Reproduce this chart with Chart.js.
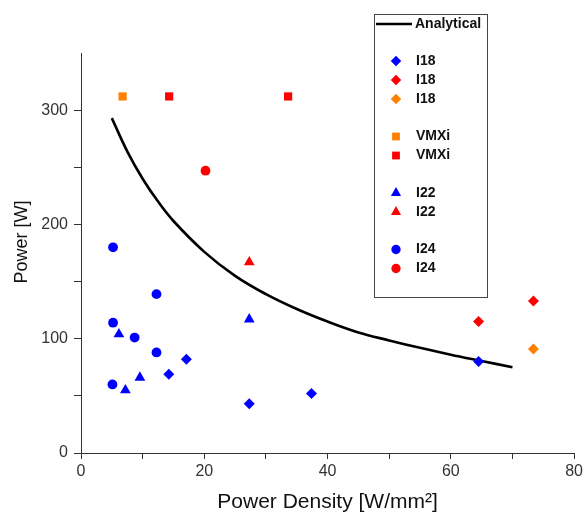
<!DOCTYPE html>
<html>
<head>
<meta charset="utf-8">
<title>Power vs Power Density</title>
<script src="https://cdn.jsdelivr.net/npm/chart.js"></script>
<style>
  html, body { margin: 0; padding: 0; background: #fff; }
  #wrap { position: relative; width: 586px; height: 515px; }
</style>
</head>
<body>
<div id="wrap"><canvas id="powerChart" width="586" height="515"></canvas></div>
<script>
// values
const analyticalX = [5, 7.5, 10, 12.5, 15, 20, 25, 30, 35, 40, 45, 50, 55, 60, 65, 70];
const analyticalY = [293, 264, 240, 220, 203, 176, 155, 139, 126, 115, 105.5, 98.5, 92, 86, 80.5, 75];

const i18BlueX = [14.25, 17.1, 27.3, 37.4, 64.5];
const i18BlueY = [69, 82, 43, 52, 80];
const i18RedX = [64.5, 73.4];
const i18RedY = [115, 133];
const i18OrangeX = [73.4];
const i18OrangeY = [91];

const vmxiOrangeX = [6.75];
const vmxiOrangeY = [312];
const vmxiRedX = [14.3, 33.6];
const vmxiRedY = [312, 312];

const i22BlueX = [6.15, 7.2, 9.55, 27.3];
const i22BlueY = [104, 55, 66, 117];
const i22RedX = [27.3];
const i22RedY = [167];

const i24BlueX = [5.2, 12.25, 5.2, 8.7, 12.25, 5.1];
const i24BlueY = [180, 139, 114, 101, 88, 60];
const i24RedX = [20.2];
const i24RedY = [247];

const xTicks = [0, 20, 40, 60, 80];
const yTicks = [0, 100, 200, 300];

const BLUE = '#0000ff', RED = '#ff0000', ORANGE = '#ff8000';
const FONT = '"Liberation Sans", Arial, sans-serif';

function pts(xs, ys) {
    return xs.map((x, i) => ({ x: x, y: ys[i] }));
}

// scatter series, in legend order (null = gap in legend)
const series = [
    { label: 'I18', color: BLUE, style: 'rectRot', r: 5.5, data: pts(i18BlueX, i18BlueY) },
    { label: 'I18', color: RED, style: 'rectRot', r: 5.5, data: pts(i18RedX, i18RedY) },
    { label: 'I18', color: ORANGE, style: 'rectRot', r: 5.5, data: pts(i18OrangeX, i18OrangeY) },
    null,
    { label: 'VMXi', color: ORANGE, style: 'rect', r: 5.8, data: pts(vmxiOrangeX, vmxiOrangeY) },
    { label: 'VMXi', color: RED, style: 'rect', r: 5.8, data: pts(vmxiRedX, vmxiRedY) },
    null,
    { label: 'I22', color: BLUE, style: 'triangle', r: 6.2, data: pts(i22BlueX, i22BlueY) },
    { label: 'I22', color: RED, style: 'triangle', r: 6.2, data: pts(i22RedX, i22RedY) },
    null,
    { label: 'I24', color: BLUE, style: 'circle', r: 4.9, data: pts(i24BlueX, i24BlueY) },
    { label: 'I24', color: RED, style: 'circle', r: 4.9, data: pts(i24RedX, i24RedY) }
];

const datasets = [{
    type: 'line',
    label: 'Analytical',
    data: pts(analyticalX, analyticalY),
    borderColor: '#000',
    borderWidth: 2.6,
    pointRadius: 0,
    tension: 0.4,
    fill: false,
    order: 5
}];
series.filter(s => s).forEach(s => {
    datasets.push({
        type: 'scatter',
        label: s.label,
        data: s.data,
        pointStyle: s.style,
        pointRadius: s.r,
        pointHoverRadius: s.r,
        backgroundColor: s.color,
        borderColor: s.color,
        borderWidth: 0,
        order: 1
    });
});

// small marker painter for the boxed legend
function marker(ctx, style, color, r, x, y) {
    ctx.save();
    ctx.fillStyle = color;
    ctx.beginPath();
    if (style === 'rectRot') {
        ctx.moveTo(x, y - r); ctx.lineTo(x + r, y); ctx.lineTo(x, y + r); ctx.lineTo(x - r, y);
    } else if (style === 'rect') {
        const h = r * Math.SQRT1_2;
        ctx.rect(x - h, y - h, 2 * h, 2 * h);
    } else if (style === 'triangle') {
        const a = r * 0.866;
        ctx.moveTo(x, y - r); ctx.lineTo(x + a, y + r / 2); ctx.lineTo(x - a, y + r / 2);
    } else {
        ctx.arc(x, y, r, 0, Math.PI * 2);
    }
    ctx.closePath();
    ctx.fill();
    ctx.restore();
}

const boxLegend = {
    id: 'boxLegend',
    afterDraw(chart) {
        const ctx = chart.ctx;
        ctx.save();

        // y axis title, a bit above the plot's middle as in the original
        ctx.translate(22, 242);
        ctx.rotate(-Math.PI / 2);
        ctx.fillStyle = '#111';
        ctx.font = '18px ' + FONT;
        ctx.textAlign = 'center';
        ctx.textBaseline = 'middle';
        ctx.fillText('Power [W]', 0, 0);
        ctx.setTransform(1, 0, 0, 1, 0, 0);

        ctx.fillStyle = '#fff';
        ctx.fillRect(374.5, 14.5, 113, 283);
        ctx.strokeStyle = '#444';
        ctx.lineWidth = 1;
        ctx.strokeRect(374.5, 14.5, 113, 283);

        ctx.strokeStyle = '#000';
        ctx.lineWidth = 2.6;
        ctx.beginPath();
        ctx.moveTo(376, 24);
        ctx.lineTo(412, 24);
        ctx.stroke();

        ctx.fillStyle = '#111';
        ctx.font = 'bold 14px ' + FONT;
        ctx.textBaseline = 'middle';
        ctx.textAlign = 'left';
        ctx.fillText('Analytical', 415, 24);

        let y = 61;
        series.forEach(s => {
            if (!s) { y += 18.5; return; }
            marker(ctx, s.style, s.color, s.r * 0.95, 396, y);
            ctx.fillStyle = '#111';
            ctx.fillText(s.label, 416, y);
            y += 19;
        });
        ctx.restore();
    }
};

const tickFont = { family: FONT, size: 16 };

new Chart(document.getElementById('powerChart').getContext('2d'), {
    data: { datasets: datasets },
    options: {
        responsive: false,
        animation: false,
        events: [],
        layout: { padding: { top: 53, right: 11, left: 0, bottom: 0 } },
        plugins: {
            legend: { display: false },
            tooltip: { enabled: false }
        },
        scales: {
            x: {
                type: 'linear',
                min: 0,
                max: 80,
                afterFit: axis => { axis.height = 62; },
                afterBuildTicks: axis => {
                    axis.ticks = [0, 10, 20, 30, 40, 50, 60, 70, 80].map(v => ({ value: v }));
                },
                ticks: {
                    color: '#333',
                    font: tickFont,
                    padding: 3,
                    maxRotation: 0,
                    autoSkip: false,
                    callback: v => xTicks.includes(v) ? String(v) : ''
                },
                grid: { drawOnChartArea: false, drawTicks: true, tickLength: 6, tickColor: '#333' },
                border: { display: true, color: '#333', width: 1 },
                title: {
                    display: true,
                    text: 'Power Density [W/mm²]',
                    color: '#111',
                    font: { family: FONT, size: 21 },
                    padding: { top: 0, bottom: 0 }
                }
            },
            y: {
                type: 'linear',
                min: 0,
                max: 350,
                afterFit: axis => { axis.width = 81; },
                afterBuildTicks: axis => {
                    axis.ticks = [0, 50, 100, 150, 200, 250, 300].map(v => ({ value: v }));
                },
                ticks: {
                    color: '#333',
                    font: tickFont,
                    padding: 6,
                    autoSkip: false,
                    callback: v => yTicks.includes(v) ? String(v) : ''
                },
                grid: { drawOnChartArea: false, drawTicks: true, tickLength: 7, tickColor: '#333' },
                border: { display: true, color: '#333', width: 1 },
                title: { display: false }
            }
        }
    },
    plugins: [boxLegend]
});
</script>
</body>
</html>
